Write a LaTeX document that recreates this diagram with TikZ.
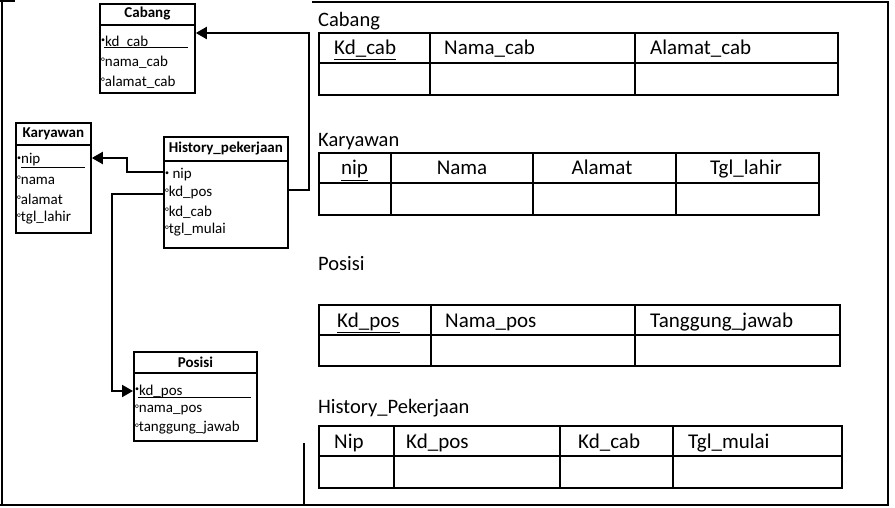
\documentclass[tikz,border=0pt]{standalone}
\usepackage{fontspec}
\setmainfont{Carlito}
\usetikzlibrary{arrows.meta}
\newcommand\pkmark{\raisebox{0.45ex}{\fontsize{8}{8}\selectfont\textbullet}}
\newcommand\atmark{\raisebox{0.1ex}{\fontsize{11}{11}\selectfont°}}
\begin{document}
\begin{tikzpicture}[x=1pt,y=-1pt,
  frame/.style={line width=2pt},
  ent/.style={draw, line width=1.8pt, anchor=north west, inner sep=0pt},
  etitle/.style={font=\fontsize{15}{17}\selectfont\bfseries, anchor=center, inner sep=0pt},
  attr/.style={font=\fontsize{15}{17}\selectfont, anchor=west, inner sep=0pt},
  keyline/.style={line width=1pt},
  link/.style={line width=2pt, -{Triangle[length=11pt,width=12pt]}},
  tbl/.style={draw, line width=1.6pt, anchor=north west, inner sep=0pt},
  tline/.style={line width=1.6pt},
  thead/.style={font=\fontsize{21}{25}\selectfont, anchor=base west, inner sep=0pt},
  thc/.style={font=\fontsize{21}{25}\selectfont, anchor=base, inner sep=0pt},
  tlabel/.style={font=\fontsize{20.5}{24}\selectfont, anchor=base west, inner sep=0pt}
]
\useasboundingbox (0,0) rectangle (895,508);

% outer frame
\draw[frame] (0,1) -- (15,1);
\draw[frame] (312,2) -- (888,2) -- (888,505) -- (0,505);
\draw[frame] (2,0) -- (2,505);
\draw[frame] (304,443) -- (304,505);

% ---------- ER entities ----------
% Cabang
\node[ent, minimum width=95pt, minimum height=89pt] (cabang) at (99,3) {};
\draw[line width=1.8pt] ([yshift=-22pt]cabang.north west) -- ([yshift=-22pt]cabang.north east);
\node[etitle] (cabang-t) at ([yshift=-11pt]cabang.north) {Cabang};
\node[attr] (cabang-a1) at (101,42) {\pkmark kd\_cab};
\node[attr] (cabang-a2) at (101,62) {\atmark nama\_cab};
\node[attr] (cabang-a3) at (101,82) {\atmark alamat\_cab};
\draw[keyline] (104,48) -- (188,48);

% Karyawan
\node[ent, minimum width=75pt, minimum height=110pt] (kary) at (15,122) {};
\draw[line width=1.8pt] ([yshift=-23pt]kary.north west) -- ([yshift=-23pt]kary.north east);
\node[etitle] (kary-t) at ([yshift=-11.5pt]kary.north) {Karyawan};
\node[attr] (kary-a1) at (17,160) {\pkmark nip};
\node[attr] (kary-a2) at (17,180) {\atmark nama};
\node[attr] (kary-a3) at (17,199) {\atmark alamat};
\node[attr] (kary-a4) at (17,218) {\atmark tgl\_lahir};
\draw[keyline] (21,168) -- (85,168);

% History_pekerjaan
\node[ent, minimum width=124pt, minimum height=111pt] (hist) at (163,136) {};
\draw[line width=1.8pt] ([yshift=-25pt]hist.north west) -- ([yshift=-25pt]hist.north east);
\node[etitle] (hist-t) at ([yshift=-12.5pt]hist.north) {History\_pekerjaan};
\node[attr] (hist-a1) at (165,175) {\pkmark\ nip};
\node[attr] (hist-a2) at (165,193) {\atmark kd\_pos};
\node[attr] (hist-a3) at (165,212) {\atmark kd\_cab};
\node[attr] (hist-a4) at (165,230) {\atmark tgl\_mulai};

% Posisi
\node[ent, minimum width=123pt, minimum height=89pt] (posisi) at (133,351) {};
\draw[line width=1.8pt] ([yshift=-22pt]posisi.north west) -- ([yshift=-22pt]posisi.north east);
\node[etitle] (posisi-t) at ([yshift=-11pt]posisi.north) {Posisi};
\node[attr] (posisi-a1) at (135,391) {\pkmark kd\_pos};
\node[attr] (posisi-a2) at (135,410) {\atmark nama\_pos};
\node[attr] (posisi-a3) at (135,428) {\atmark tanggung\_jawab};
\draw[keyline] (138,397) -- (251,397);

% relationships
\draw[link] ([yshift=-54pt]hist.north east) -- ++(20,0) |- ([yshift=-30pt]cabang.north east);
\draw[link] ([yshift=-36pt]hist.north west) -- ++(-36,0) |- ([yshift=-36pt]kary.north east);
\draw[link] ([yshift=-58pt]hist.north west) -- ++(-51,0) |- ([yshift=-40pt]posisi.north west);

% ---------- relation tables ----------
% Cabang
\node[tlabel] (lcab) at (318,27) {Cabang};
\node[tbl, minimum width=519pt, minimum height=62pt] (tcab) at (318,32) {};
\draw[tline] ([yshift=-31pt]tcab.north west) -- ([yshift=-31pt]tcab.north east);
\draw[tline] (tcab.north west -| 430,0) -- (tcab.south west -| 430,0);
\draw[tline] (tcab.north west -| 635,0) -- (tcab.south west -| 635,0);
\node[thead] (tcab-1) at (334,55) {\underline{Kd\_cab}};
\node[thead] (tcab-2) at (444,55) {Nama\_cab};
\node[thead] (tcab-3) at (650,55) {Alamat\_cab};

% Karyawan
\node[tlabel] (lkary) at (318,147) {Karyawan};
\node[tbl, minimum width=500pt, minimum height=62pt] (tkary) at (318,152) {};
\draw[tline] ([yshift=-31pt]tkary.north west) -- ([yshift=-31pt]tkary.north east);
\foreach \cx in {391,533,676}
  \draw[tline] (tkary.north west -| \cx,0) -- (tkary.south west -| \cx,0);
\node[thc] (tkary-1) at (354.5,175) {\underline{nip}};
\node[thc] (tkary-2) at (462,175) {Nama};
\node[thc] (tkary-3) at (602,175) {Alamat};
\node[thc] (tkary-4) at (746,175) {Tgl\_lahir};

% Posisi
\node[tlabel] (lpos) at (318,270) {Posisi};
\node[tbl, minimum width=521pt, minimum height=61pt] (tpos) at (318,304) {};
\draw[tline] ([yshift=-31pt]tpos.north west) -- ([yshift=-31pt]tpos.north east);
\draw[tline] (tpos.north west -| 431,0) -- (tpos.south west -| 431,0);
\draw[tline] (tpos.north west -| 635,0) -- (tpos.south west -| 635,0);
\node[thead] (tpos-1) at (337,327) {\underline{Kd\_pos}};
\node[thead] (tpos-2) at (445,327) {Nama\_pos};
\node[thead] (tpos-3) at (650,327) {Tanggung\_jawab};

% History_Pekerjaan
\node[tlabel] (lhist) at (318,413) {History\_Pekerjaan};
\node[tbl, minimum width=523pt, minimum height=62pt] (thist) at (318,425) {};
\draw[tline] ([yshift=-31pt]thist.north west) -- ([yshift=-31pt]thist.north east);
\foreach \cx in {394,560,673}
  \draw[tline] (thist.north west -| \cx,0) -- (thist.south west -| \cx,0);
\node[thead] (thist-1) at (334,448) {Nip};
\node[thead] (thist-2) at (406,448) {Kd\_pos};
\node[thead] (thist-3) at (578,448) {Kd\_cab};
\node[thead] (thist-4) at (688,448) {Tgl\_mulai};
\end{tikzpicture}
\end{document}
